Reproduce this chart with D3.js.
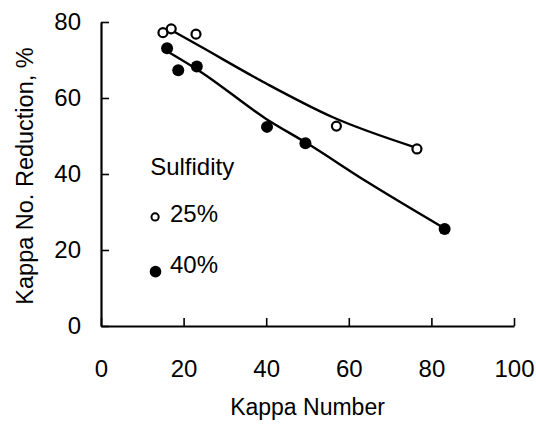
<!DOCTYPE html>
<html>
<head>
<meta charset="utf-8">
<script src="https://cdn.jsdelivr.net/npm/d3@7/dist/d3.min.js"></script>
<style>
  body { margin: 0; background: #fff; }
  text { font-family: "Liberation Sans", Arial, sans-serif; fill: #000; }
</style>
</head>
<body>
<div id="chart"></div>
<script>
// data
const S25_X = [15, 17, 23, 57, 76.5];
const S25_Y = [77.2, 78.2, 76.8, 52.6, 46.6];
const S40_X = [16, 18.7, 23.2, 40.2, 49.5, 83.2];
const S40_Y = [73.1, 67.3, 68.3, 52.4, 48.1, 25.5];

// fitted curves
const FIT25_X = [16, 24, 40, 56, 76.4];
const FIT25_Y = [78.5, 73.6, 63.8, 55.0, 46.9];
const FIT40_X = [16, 24, 40, 50, 64.3, 83.3];
const FIT40_Y = [72.3, 67.0, 54.5, 48.0, 38.0, 25.6];

const XTICKS = [0, 20, 40, 60, 80, 100];
const YTICKS = [0, 20, 40, 60, 80];
const LEGEND_TITLE = "Sulfidity";
const LEGEND_LABELS = ["25%", "40%"];

var width = 536, height = 424;
var margin = {left: 101, right: 22, top: 22, bottom: 98};

var svg = d3.select("#chart").append("svg")
    .attr("width", width).attr("height", height);

var x = d3.scaleLinear().domain([0, 100]).range([margin.left, width - margin.right]);
var y = d3.scaleLinear().domain([0, 80]).range([height - margin.bottom, margin.top]);

var xAxis = d3.axisBottom(x).tickValues(XTICKS).tickSizeInner(-8).tickSizeOuter(0).tickPadding(34);
var yAxis = d3.axisLeft(y).tickValues(YTICKS).tickSizeInner(-8).tickSizeOuter(0).tickPadding(20);

var gx = svg.append("g").attr("transform", "translate(0," + y(0) + ")").call(xAxis);
var gy = svg.append("g").attr("transform", "translate(" + x(0) + ",0)").call(yAxis);

[gx, gy].forEach(function(g) {
  g.select(".domain").attr("stroke-width", 2.2);
  g.selectAll(".tick line").attr("stroke-width", 1.6);
  g.selectAll("text").style("font-size", "24px").attr("fill", "#000");
});

// axis titles
svg.append("text")
  .attr("x", (x(0) + x(100)) / 2)
  .attr("y", 415)
  .attr("text-anchor", "middle")
  .style("font-size", "23px")
  .text("Kappa Number");

svg.append("text")
  .attr("transform", "translate(33,176) rotate(-90)")
  .attr("text-anchor", "middle")
  .style("font-size", "23.5px")
  .text("Kappa No. Reduction, %");

// fit curves
var line = d3.line()
  .x(function(d) { return x(d[0]); })
  .y(function(d) { return y(d[1]); })
  .curve(d3.curveMonotoneX);

svg.append("path")
  .datum(d3.zip(FIT25_X, FIT25_Y))
  .attr("d", line).attr("fill", "none").attr("stroke", "#000").attr("stroke-width", 2.4);
svg.append("path")
  .datum(d3.zip(FIT40_X, FIT40_Y))
  .attr("d", line).attr("fill", "none").attr("stroke", "#000").attr("stroke-width", 2.4);

// points
svg.selectAll(".p25").data(d3.zip(S25_X, S25_Y)).enter().append("circle")
  .attr("class", "p25")
  .attr("cx", function(d) { return x(d[0]); })
  .attr("cy", function(d) { return y(d[1]); })
  .attr("r", 4.5)
  .attr("fill", "#fff").attr("stroke", "#000").attr("stroke-width", 2.2);

svg.selectAll(".p40").data(d3.zip(S40_X, S40_Y)).enter().append("circle")
  .attr("class", "p40")
  .attr("cx", function(d) { return x(d[0]); })
  .attr("cy", function(d) { return y(d[1]); })
  .attr("r", 6)
  .attr("fill", "#000");

// legend (placed in data units)
svg.append("text")
  .attr("x", x(11.9)).attr("y", y(39.7))
  .style("font-size", "24px")
  .text(LEGEND_TITLE);

svg.append("circle")
  .attr("cx", x(13.1)).attr("cy", y(28.7)).attr("r", 3.6)
  .attr("fill", "#fff").attr("stroke", "#000").attr("stroke-width", 2);
svg.append("text")
  .attr("x", x(16.7)).attr("y", y(27.4))
  .style("font-size", "24px")
  .text(LEGEND_LABELS[0]);

svg.append("circle")
  .attr("cx", x(13.2)).attr("cy", y(14.3)).attr("r", 5.8)
  .attr("fill", "#000");
svg.append("text")
  .attr("x", x(16.7)).attr("y", y(13.9))
  .style("font-size", "24px")
  .text(LEGEND_LABELS[1]);
</script>
</body>
</html>
